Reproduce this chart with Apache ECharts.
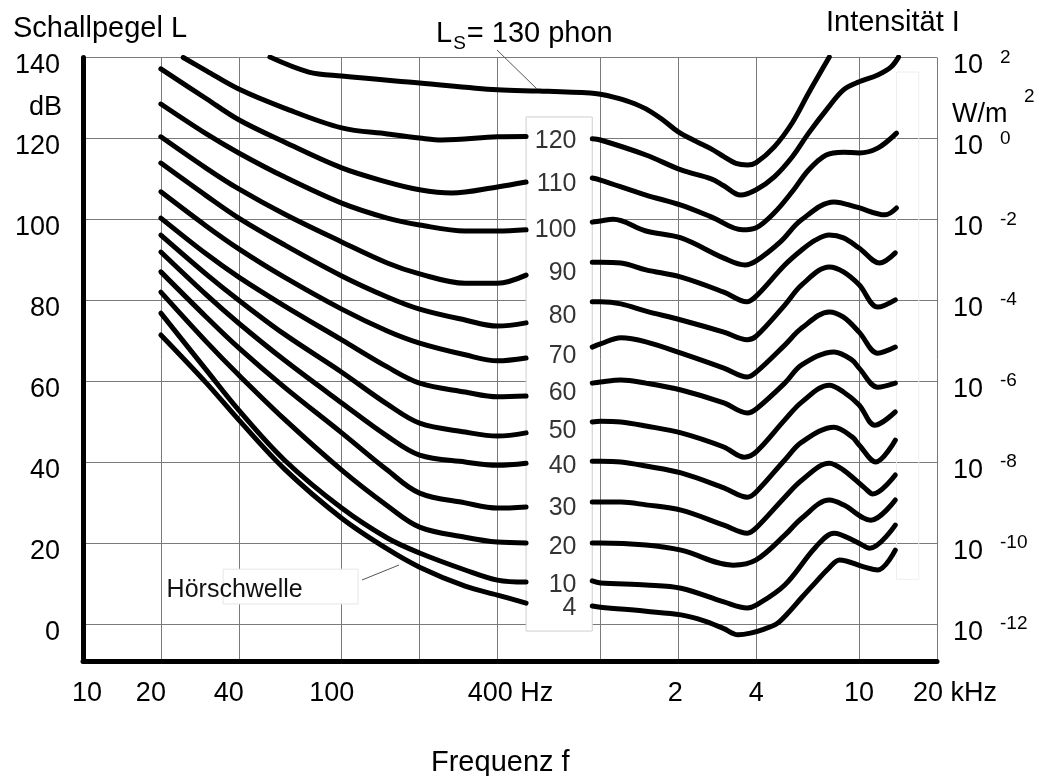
<!DOCTYPE html>
<html>
<head>
<meta charset="utf-8">
<script src="https://cdn.jsdelivr.net/npm/echarts@6/dist/echarts.min.js"></script>
<style>
  html, body { margin: 0; padding: 0; background: #fff; }
  #chart { width: 1044px; height: 776px; }
</style>
</head>
<body>
<div id="chart"></div>
<script>
// Grid positions on the frequency axis (Hz) and the level axis (dB)
const freqGrid = [10, 20, 40, 100, 200, 400, 1000, 2000, 4000, 10000, 20000];
const freqLabels = [10, 20, 40, 100, 400, 2000, 4000, 10000, 20000];
const levelGrid = [0, 20, 40, 60, 80, 100, 120, 140];

// Equal-loudness contours as [frequency in Hz, sound pressure level in dB].
// Each contour (except 130 phon) is interrupted by the label column,
// so it is kept as a low-frequency and a high-frequency part.
const phon130 = [[52.8,140.1],[74.6,136.4],[100,135.4],[200,133.7],[400,132.0],[580,131.7],[913,131.2],[1000,130.9],[1124,130.2],[1300,129.0],[1500,127.3],[1750,124.5],[2000,121.6],[2350,119.2],[2680,117.4],[3000,115.5],[3340,113.8],[3700,113.4],[4000,114.0],[4700,117.9],[5510,123.8],[6380,131.2],[7670,140.1]];

const phon120Lo = [[24.4,140.0],[30,136.7],[40,132.2],[60,127.5],[100,122.6],[150,121.1],[200,120.1],[244,119.6],[400,120.4],[516,120.5]];
const phon120Hi = [[930,119.9],[1000,119.6],[1500,115.9],[2050,112.2],[2680,110.0],[3000,108.3],[3480,106.0],[4000,107.3],[4700,110.5],[5510,115.4],[6380,121.3],[7460,127.0],[8700,132.0],[10000,134.0],[11800,135.7],[13300,137.7],[14200,140.1]];

const phon110Lo = [[20,137.2],[30,129.8],[40,124.6],[60,119.1],[100,112.7],[150,109.2],[200,107.3],[266,106.5],[400,108.0],[516,109.2]];
const phon110Hi = [[930,110.2],[1000,109.7],[1500,106.0],[2050,103.5],[2680,100.6],[3540,97.4],[4000,97.9],[4700,101.6],[5510,106.8],[6380,112.2],[7460,115.9],[8700,116.6],[10000,116.4],[11800,117.6],[13950,121.3]];

const phon100Lo = [[20,128.5],[30,121.1],[40,116.4],[60,110.5],[100,104.0],[150,100.3],[200,98.6],[300,97.1],[400,97.1],[516,97.4]];
const phon100Hi = [[930,99.3],[1000,99.6],[1120,100.0],[1500,97.1],[2050,95.4],[3000,90.4],[3620,88.7],[4000,89.7],[4960,94.4],[5970,99.8],[8000,104.3],[9800,103.0],[12600,101.1],[13950,102.8]];

const phon90Lo = [[20,120.4],[30,112.6],[40,107.5],[60,101.3],[100,94.4],[150,89.2],[200,86.5],[300,84.2],[400,84.2],[516,86.2]];
const phon90Hi = [[930,89.4],[1000,89.4],[1200,89.2],[1500,87.5],[2050,85.7],[3000,82.0],[3680,79.6],[4000,81.0],[5160,88.7],[6000,92.4],[6800,94.9],[7670,96.1],[8700,95.4],[10000,92.9],[12000,89.2],[13800,91.7]];

const phon80Lo = [[20,113.9],[30,105.8],[40,100.3],[60,93.7],[100,86.0],[150,80.8],[200,77.8],[300,75.1],[400,73.6],[516,74.4]];
const phon80Hi = [[930,79.6],[1000,79.6],[1200,79.1],[1500,77.3],[2050,75.1],[3000,72.1],[3700,70.2],[4000,71.1],[5160,78.8],[6000,83.8],[7670,88.2],[8700,87.0],[10000,83.8],[11800,78.3],[13800,80.1]];

const phon70Lo = [[20,106.8],[30,98.3],[40,92.7],[60,85.7],[100,77.8],[150,72.4],[200,69.4],[300,66.5],[400,65.0],[516,65.7]];
const phon70Hi = [[930,68.4],[1000,69.2],[1200,70.7],[1500,69.7],[2050,66.9],[3000,63.2],[3700,61.0],[4000,62.2],[5160,68.9],[6000,73.1],[7670,77.1],[8700,75.8],[10000,72.1],[11800,66.9],[13800,68.4]];

const phon60Lo = [[20,100.3],[30,91.4],[40,85.7],[60,78.6],[100,70.2],[150,63.5],[200,59.5],[300,57.3],[400,56.1],[516,56.3]];
const phon60Hi = [[930,59.5],[1000,59.8],[1200,60.3],[1500,59.5],[2050,57.8],[3000,54.6],[3700,52.1],[4000,53.1],[5160,59.5],[6000,64.0],[8000,67.2],[9400,65.2],[10000,63.2],[11800,58.5],[13800,59.5]];

const phon50Lo = [[20,96.1],[30,86.4],[40,80.0],[60,71.6],[100,62.2],[150,54.3],[200,49.6],[300,47.4],[400,46.4],[516,47.2]];
const phon50Hi = [[930,49.9],[1000,50.1],[1200,49.9],[1500,48.9],[2050,47.2],[3000,43.7],[3600,41.2],[4000,42.5],[5160,50.4],[6000,54.8],[7670,59.0],[8700,57.3],[10000,54.1],[11500,49.1],[13800,52.4]];

const phon40Lo = [[20,91.9],[30,81.3],[40,74.3],[60,65.2],[100,54.6],[150,46.4],[200,41.7],[300,40.0],[400,39.2],[516,39.7]];
const phon40Hi = [[930,40.2],[1000,40.2],[1200,40.0],[1500,39.0],[2050,37.3],[3000,33.6],[3700,31.3],[4000,32.6],[5160,40.5],[6000,44.9],[8000,48.6],[9400,46.2],[10000,44.2],[11600,40.0],[13800,45.4]];

const phon30Lo = [[20,87.0],[30,75.8],[40,68.2],[60,58.5],[100,47.2],[150,38.0],[200,32.3],[300,29.9],[400,28.6],[516,28.9]];
const phon30Hi = [[930,30.1],[1000,30.1],[1200,30.1],[1500,29.4],[2050,28.1],[3000,24.4],[3700,22.4],[4000,23.7],[5160,31.3],[6000,35.5],[7670,39.7],[8700,38.0],[10500,33.6],[11300,32.1],[13800,36.8]];

const phon20Lo = [[20,82.0],[30,69.7],[40,61.5],[60,50.6],[100,38.0],[150,29.2],[200,23.9],[300,21.4],[400,20.2],[516,20.0]];
const phon20Hi = [[930,20.0],[1000,20.0],[1500,19.5],[2050,18.2],[3260,14.5],[4000,15.8],[5160,21.9],[6000,26.1],[7670,30.6],[8700,29.4],[11100,25.6],[13800,30.6]];

const phon10Lo = [[20,76.8],[30,62.7],[40,52.8],[60,40.5],[100,28.6],[150,21.2],[200,17.5],[300,13.3],[400,10.8],[516,10.3]];
const phon10Hi = [[930,10.6],[1000,10.1],[1500,9.6],[2050,8.8],[3000,5.4],[3700,3.9],[4000,4.6],[5160,9.6],[6800,19.0],[8000,22.4],[9800,20.2],[11000,18.7],[13800,24.4]];

// hearing threshold (4 phon)
const phon4Lo = [[20,71.4],[30,59.5],[40,50.4],[60,38.3],[100,26.1],[150,18.5],[200,14.0],[300,9.3],[400,7.1],[516,5.1]];
const phon4Hi = [[930,4.4],[1000,4.1],[1500,3.1],[2050,2.2],[2500,0.8],[3000,-1.2],[3400,-2.7],[3800,-2.3],[4300,-1.3],[4800,0.0],[5300,2.6],[6000,6.5],[6800,10.3],[7600,13.6],[8400,15.8],[10500,14.0],[11800,13.3],[13800,18.2]];

const contours = [
  { phon: 130, parts: [phon130] },
  { phon: 120, parts: [phon120Lo, phon120Hi] },
  { phon: 110, parts: [phon110Lo, phon110Hi] },
  { phon: 100, parts: [phon100Lo, phon100Hi] },
  { phon: 90,  parts: [phon90Lo, phon90Hi] },
  { phon: 80,  parts: [phon80Lo, phon80Hi] },
  { phon: 70,  parts: [phon70Lo, phon70Hi] },
  { phon: 60,  parts: [phon60Lo, phon60Hi] },
  { phon: 50,  parts: [phon50Lo, phon50Hi] },
  { phon: 40,  parts: [phon40Lo, phon40Hi] },
  { phon: 30,  parts: [phon30Lo, phon30Hi] },
  { phon: 20,  parts: [phon20Lo, phon20Hi] },
  { phon: 10,  parts: [phon10Lo, phon10Hi] },
  { phon: 4,   parts: [phon4Lo, phon4Hi] }
];

// Annotation boxes (data units)
const labelColumn = { topDb: 125.3, bottomDb: -1.8, textHz: 812 };
const thresholdTag = { fromHz: 34.8, toHz: 115.6, topDb: 13.5, bottomDb: 4.9 };
const endStrip = { fromHz: 13950, toHz: 17000, topDb: 136.4, bottomDb: 11 };

const FONT = '"Liberation Sans", Arial, Helvetica, sans-serif';
const TXT = 27;
const TITLE = 29;

const gapFrom = phon4Lo[phon4Lo.length - 1][0];
const gapTo = phon4Hi[0][0];

const series = [];
contours.forEach(c => {
  c.parts.forEach(part => {
    series.push({
      type: 'line',
      name: c.phon + ' phon',
      data: part,
      showSymbol: false,
      smooth: 0.35,
      silent: true,
      z: 3,
      lineStyle: { color: '#000', width: 5, cap: 'round', join: 'round' }
    });
  });
});

// boxes that mask the grid behind the labels
series.push({
  type: 'line',
  data: [],
  z: 2,
  silent: true,
  markArea: {
    silent: true,
    data: [
      [{ xAxis: gapFrom, yAxis: labelColumn.topDb,
         itemStyle: { color: '#fff', borderColor: '#cfcfcf', borderWidth: 1 } },
       { xAxis: gapTo, yAxis: labelColumn.bottomDb }],
      [{ xAxis: thresholdTag.fromHz, yAxis: thresholdTag.topDb,
         itemStyle: { color: '#fff', borderColor: '#e6e6e6', borderWidth: 1 },
         label: { show: true, position: 'insideLeft', distance: 0, offset: [-56, 4],
                  formatter: 'Hörschwelle', fontSize: 25, color: '#111', fontFamily: FONT } },
       { xAxis: thresholdTag.toHz, yAxis: thresholdTag.bottomDb }],
      [{ xAxis: endStrip.fromHz, yAxis: endStrip.topDb,
         itemStyle: { color: 'rgba(0,0,0,0)', borderColor: '#eeeeee', borderWidth: 1 } },
       { xAxis: endStrip.toHz, yAxis: endStrip.bottomDb }]
    ]
  }
});

// phon labels in the column, placed midway between the two parts of each contour
const labelPoints = contours.filter(c => c.parts.length === 2).map(c => {
  const lo = c.parts[0], hi = c.parts[1];
  return [labelColumn.textHz, (lo[lo.length - 1][1] + hi[0][1]) / 2, c.phon];
});
series.push({
  type: 'scatter',
  data: labelPoints,
  symbolSize: 1,
  itemStyle: { color: 'rgba(0,0,0,0)' },
  z: 6,
  silent: true,
  label: {
    show: true, position: 'left', distance: 0, offset: [0, 4],
    formatter: p => String(p.data[2]),
    fontSize: 25, color: '#000', fontFamily: FONT
  }
});

// frequency tick text: Hz below 1 kHz, kHz above
const xFormatter = v => {
  const num = v >= 1000 ? v / 1000 : v;
  if (v === 400) return '{hz|' + num + ' Hz}';
  if (v === 20000) return '{khz|' + num + ' kHz}';
  if (v === 10) return '{r|' + num + '}';
  if (v === 20 || v === 40 || v === 100) return '{l|' + num + '}';
  if (v === 2000) return '{s|' + num + '}';
  return '{n|' + num + '}';
};
const tickText = { fontSize: TXT, fontFamily: FONT, color: '#000' };

const option = {
  animation: false,
  backgroundColor: '#fff',
  grid: { left: 83, right: 107, top: 57.5, bottom: 115, containLabel: false },
  xAxis: {
    type: 'log',
    logBase: 10,
    min: 10,
    max: 20000,
    axisLine: { show: true, onZero: false, lineStyle: { color: '#000', width: 5 } },
    axisTick: { show: false, customValues: freqGrid },
    splitLine: { show: true, lineStyle: { color: '#7a7a7a', width: 1 } },
    axisLabel: {
      customValues: freqLabels,
      formatter: xFormatter,
      margin: 19,
      color: '#000',
      rich: {
        n: tickText,
        r: Object.assign({ padding: [0, 0, 0, 8] }, tickText),
        l: Object.assign({ padding: [0, 20, 0, 0] }, tickText),
        s: Object.assign({ padding: [0, 6, 0, 0] }, tickText),
        hz: Object.assign({ padding: [0, 0, 0, 26] }, tickText),
        khz: Object.assign({ padding: [0, 0, 0, 36] }, tickText)
      }
    }
  },
  yAxis: [
    {
      type: 'value',
      min: -9.2,
      max: 140,
      axisLine: { show: true, lineStyle: { color: '#000', width: 5 } },
      axisTick: { show: false, customValues: levelGrid },
      splitLine: { show: true, lineStyle: { color: '#7a7a7a', width: 1 } },
      axisLabel: {
        customValues: levelGrid,
        margin: 23,
        fontSize: TXT,
        fontFamily: FONT,
        color: '#000',
        verticalAlign: 'top',
        lineHeight: 17
      }
    },
    {
      // intensity scale: mantissa
      type: 'value',
      min: -9.2,
      max: 140,
      position: 'right',
      axisLine: { show: false },
      splitLine: { show: false },
      axisTick: { show: false, customValues: levelGrid },
      axisLabel: {
        customValues: levelGrid,
        margin: 16,
        formatter: () => '10',
        fontSize: TXT,
        fontFamily: FONT,
        color: '#000',
        verticalAlign: 'top',
        lineHeight: 17
      }
    },
    {
      // intensity scale: exponent of 10 (W/m²), 10 dB per decade, 10^0 at 120 dB
      type: 'value',
      min: -9.2,
      max: 140,
      position: 'right',
      axisLine: { show: false },
      splitLine: { show: false },
      axisTick: { show: false, customValues: levelGrid },
      axisLabel: {
        customValues: levelGrid,
        margin: 63,
        formatter: v => String((v - 120) / 10),
        fontSize: 19,
        fontFamily: FONT,
        color: '#000',
        verticalAlign: 'middle'
      }
    }
  ],
  graphic: [
    { type: 'text', left: 13, top: 14,
      style: { text: 'Schallpegel L', fontSize: TITLE, fontFamily: FONT, fill: '#000' } },
    { type: 'text', right: 982, top: 94,
      style: { text: 'dB', fontSize: TXT, fontFamily: FONT, fill: '#000' } },
    { type: 'text', left: 826, top: 8,
      style: { text: 'Intensität I', fontSize: TITLE, fontFamily: FONT, fill: '#000' } },
    { type: 'text', left: 952, top: 101,
      style: { text: 'W/m', fontSize: TXT, fontFamily: FONT, fill: '#000' } },
    { type: 'text', left: 1024, top: 87,
      style: { text: '2', fontSize: 19, fontFamily: FONT, fill: '#000' } },
    { type: 'text', left: 431, top: 748,
      style: { text: 'Frequenz f', fontSize: TITLE, fontFamily: FONT, fill: '#000' } },
    { type: 'text', left: 436, top: 19,
      style: { text: '{a|L}{s|S}{a|= 130 phon}', rich: {
        a: { fontSize: TITLE, fontFamily: FONT, fill: '#000', lineHeight: 34, verticalAlign: 'top' },
        s: { fontSize: 19, fontFamily: FONT, fill: '#000', lineHeight: 19, verticalAlign: 'bottom', padding: [0, 1, 0, 1] }
      } } },
    { type: 'line', shape: { x1: 497, y1: 50, x2: 537, y2: 89 },
      style: { stroke: '#555', lineWidth: 1 }, z: 10 },
    { type: 'line', shape: { x1: 362, y1: 580, x2: 399, y2: 565 },
      style: { stroke: '#555', lineWidth: 1 }, z: 10 }
  ],
  series: series
};

const chart = echarts.init(document.getElementById('chart'));
chart.setOption(option);
</script>
</body>
</html>
